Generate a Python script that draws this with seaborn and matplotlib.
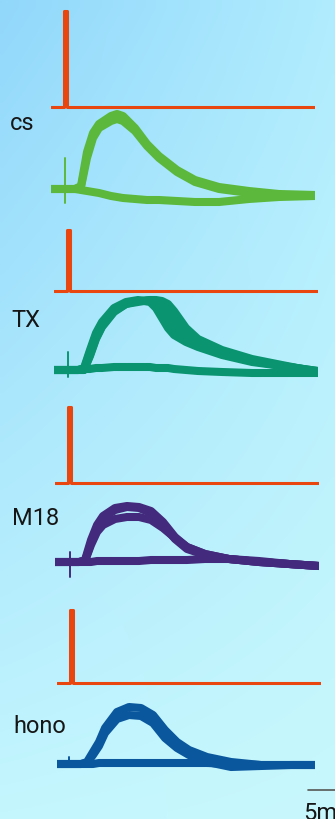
import numpy as np
import matplotlib
matplotlib.use("Agg")
import matplotlib.pyplot as plt
import seaborn as sns

W, H = 335, 819
PX_MS = 6      # px per ms
PX_MV = 10     # px per mV (or per stim unit)

# stimulus trace (time ms), same shape in every panel, amplitude differs
stim_t = [0, 2.2, 2.2, 2.7, 2.7, 44]
stim_shape = [0, 0, 1, 1, 0, 0]
stim_amp_cs, stim_amp_tx, stim_amp_m18, stim_amp_hono = 9.6, 6.1, 7.6, 7.3

# CS responses (mV)
t_cs = [0, 4, 5, 6, 7, 8, 10, 11, 12, 14, 16, 18, 21, 24, 28, 33, 38, 44]
cs_upper = [0, 0, 0.3, 3.7, 5.6, 6.5, 7.3, 7.5, 7.3, 6.1, 4.5, 3.3, 1.9, 0.9, 0.2, -0.2, -0.5, -0.6]
cs_lower = [0, 0, 0.2, 3.1, 5.1, 6.1, 6.8, 7.0, 6.8, 5.8, 4.3, 3.1, 1.7, 0.7, 0.0, -0.4, -0.6, -0.6]
cs_fail = [0, 0, -0.1, -0.2, -0.3, -0.4, -0.7, -0.8, -0.9, -1.0, -1.1, -1.1, -1.2, -1.3, -1.3, -1.0, -0.8, -0.7]
cs_artifact = (2.3, 3.1, -1.4)

# TX responses (mV)
t_tx = [0, 4, 5, 6, 7, 8, 10, 12, 14, 16, 17, 18, 19, 20, 22, 24, 28, 33, 38, 44]
tx_a = [0, 0, 0.2, 2.0, 3.7, 4.8, 6.2, 6.8, 7.0, 6.8, 6.2, 5.2, 4.2, 3.5, 2.8, 2.3, 1.5, 0.8, 0.4, -0.1]
tx_b = [0, 0, 0.1, 1.8, 3.5, 4.6, 6.0, 6.7, 6.9, 6.9, 6.7, 6.1, 5.2, 4.3, 3.2, 2.5, 1.6, 0.9, 0.4, -0.1]
tx_c = [0, 0, 0, 1.5, 3.2, 4.4, 5.9, 6.6, 6.9, 7.0, 6.9, 6.7, 6.2, 5.2, 3.7, 2.8, 1.8, 1.0, 0.4, -0.2]
tx_d = [0, 0, 0, 1.4, 3.1, 4.3, 5.8, 6.6, 6.8, 7.0, 7.0, 6.9, 6.6, 5.9, 4.2, 3.1, 2.0, 1.1, 0.5, -0.2]
tx_fail = [0, 0, 0.1, 0.1, 0.2, 0.2, 0.3, 0.3, 0.3, 0.3, 0.2, 0.2, 0.2, 0.1, 0, -0.1, -0.2, -0.3, -0.3, -0.3]
tx_artifact = (2.3, 1.8, -0.7)

# M18 responses (mV)
t_m18 = [0, 4, 5, 6, 7, 8, 10, 12, 14, 16, 18, 20, 22, 25, 29, 34, 39, 44]
m18_upper = [0, 0, 0.2, 2.2, 3.7, 4.6, 5.4, 5.6, 5.5, 5.1, 4.0, 2.5, 1.5, 0.8, 0.3, 0, -0.2, -0.4]
m18_upper2 = [0, 0, 0.1, 1.9, 3.4, 4.4, 5.2, 5.5, 5.4, 4.9, 3.7, 2.3, 1.3, 0.7, 0.3, 0, -0.2, -0.4]
m18_lower = [0, 0, 0.1, 1.7, 3.0, 3.7, 4.3, 4.5, 4.5, 4.2, 3.4, 2.4, 1.5, 0.8, 0.3, 0, -0.2, -0.4]
m18_fail = [0, 0, 0, 0, 0.1, 0.1, 0.1, 0.1, 0.1, 0.2, 0.2, 0.2, 0.2, 0.3, 0.3, 0.1, -0.2, -0.4]
m18_artifact = (2.5, 1.0, -1.5)

# hono responses (mV)
t_hono = [0, 4, 5, 6, 7, 8, 10, 12, 14, 16, 18, 20, 22, 25, 29, 34, 39, 43]
hono_upper = [0, 0, 0.2, 1.2, 2.2, 3.6, 5.2, 5.7, 5.6, 4.9, 3.4, 2.2, 1.4, 0.7, 0.2, -0.1, -0.1, -0.1]
hono_lower = [0, 0, 0.1, 0.9, 1.8, 3.1, 4.5, 4.9, 4.8, 4.1, 2.6, 1.6, 0.9, 0.2, -0.3, -0.2, -0.1, -0.1]
hono_fail = [0, 0, 0, 0, 0.1, 0.1, 0.1, 0.1, 0.1, 0.1, 0.1, 0.1, 0.1, 0.1, 0, -0.1, -0.1, -0.1]
hono_artifact = (2.0, 0.7, -0.3)

labels = ["cs", "TX", "M18", "hono"]
colors = ["#5cb83c", "#0b9470", "#432a7c", "#0b579e"]
stim_color = "#e8460e"
scalebar_ms = 5

sns.set_style("white")
plt.rcParams["font.family"] = ["Roboto", "DejaVu Sans"]

fig = plt.figure(figsize=(W / 100, H / 100), dpi=100)

# background gradient
bg = fig.add_axes([0, 0, 1, 1], zorder=-5)
u = np.linspace(0, 1, 60)
gx, gy = np.meshgrid(u, u)
tl, tr = np.array([0x92, 0xd8, 0xfb]), np.array([0xb0, 0xec, 0xfe])
bl, br = np.array([0xc4, 0xf6, 0xfe]), np.array([0xc8, 0xf8, 0xfc])
img = ((1 - gx)[..., None] * (1 - gy)[..., None] * tl + gx[..., None] * (1 - gy)[..., None] * tr
       + (1 - gx)[..., None] * gy[..., None] * bl + gx[..., None] * gy[..., None] * br) / 255
bg.imshow(img, extent=[0, 1, 0, 1], aspect="auto", interpolation="bilinear")
bg.axis("off")


def add_ax(left_px, base_px, t_max, ylim):
    top_px = base_px - ylim[1] * PX_MV
    bottom_px = base_px - ylim[0] * PX_MV
    ax = fig.add_axes([left_px / W, 1 - bottom_px / H, t_max * PX_MS / W, (bottom_px - top_px) / H])
    ax.set_xlim(0, t_max)
    ax.set_ylim(*ylim)
    ax.axis("off")
    ax.patch.set_alpha(0)
    return ax


# panel placement in pixels: (left, stim baseline, response baseline, label baseline)
stim_amps = [stim_amp_cs, stim_amp_tx, stim_amp_m18, stim_amp_hono]
resp_t = [t_cs, t_tx, t_m18, t_hono]
resp_traces = [[cs_fail, cs_lower, cs_upper],
               [tx_fail, tx_a, tx_b, tx_c, tx_d],
               [m18_fail, m18_lower, m18_upper2, m18_upper],
               [hono_fail, hono_lower, hono_upper]]
artifacts = [cs_artifact, tx_artifact, m18_artifact, hono_artifact]
lefts = [51, 54, 55, 57]
stim_base = [107, 291, 483, 683]
resp_base = [189, 370, 562, 764]
label_base = [130, 327, 525, 733]
label_x = [10, 11, 12, 13]

for i in range(4):
    sax = add_ax(lefts[i], stim_base[i], 44, (-2, 11))
    sns.lineplot(x=stim_t, y=[s * stim_amps[i] for s in stim_shape], ax=sax,
                 color=stim_color, lw=2.2, estimator=None, sort=False)

    rax = add_ax(lefts[i], resp_base[i], 44, (-4, 9))
    a_t, a_hi, a_lo = artifacts[i]
    rax.plot([a_t, a_t], [a_hi, a_lo], color=colors[i], lw=1.4)
    for tr_v in resp_traces[i]:
        sns.lineplot(x=resp_t[i], y=tr_v, ax=rax, color=colors[i], lw=5.8,
                     estimator=None, sort=False, solid_capstyle="butt")

    fig.text(label_x[i] / W, 1 - label_base[i] / H, labels[i], fontsize=17,
             color="#161616", va="baseline", ha="left")

    if i == 3:
        t0 = (308 - lefts[i]) / PX_MS
        rax.plot([t0, t0 + scalebar_ms], [-2.6, -2.6], color="#555555", lw=1.2, clip_on=False)
        fig.text(303 / W, 1 - 820 / H, f"{scalebar_ms}ms", fontsize=17, color="#161616",
                 va="baseline", ha="left")

fig.savefig("out.png", dpi=100)
